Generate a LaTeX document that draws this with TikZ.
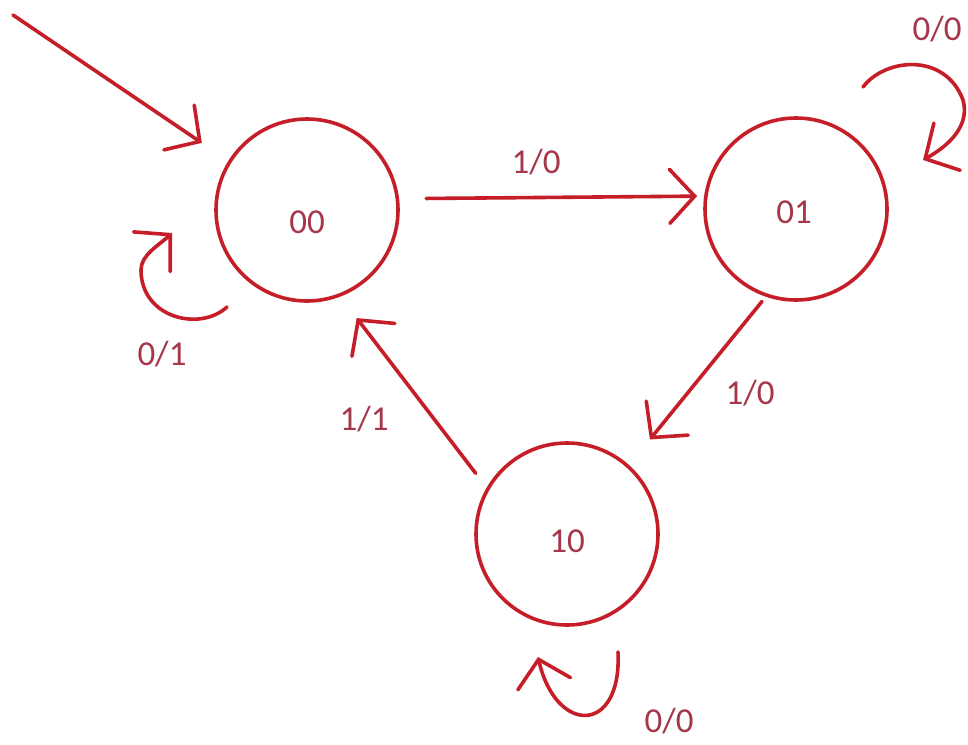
\documentclass[tikz,border=0pt]{standalone}
\usepackage{fontspec}
\setmainfont{Carlito}
\usetikzlibrary{arrows.meta}
\definecolor{ln}{RGB}{198,30,40}
\definecolor{tx}{RGB}{165,55,75}
\begin{document}
\begin{tikzpicture}[x=1pt,y=1pt,yscale=-1,
  state/.style={circle,draw=ln,line width=3.6pt,minimum size=182pt,inner sep=0pt},
  txt/.style={text=tx,font=\fontsize{35}{40}\selectfont,inner sep=0pt},
  arr/.style={draw=ln,line width=3.6pt,line cap=round,-{Straight Barb[length=25pt,width=54pt,line cap=round]}}]
\useasboundingbox (0,0) rectangle (968,744);
\fill[white] (0,0) rectangle (968,744);
% states
\node[state] (s00) at (307,210) {};
\node[state] (s01) at (796,209) {};
\node[state] (s10) at (567,534) {};
\node[txt] (t00) at (307,222) {00};
\node[txt] (t01) at (794,212) {01};
\node[txt] (t10) at (567,541) {10};
% initial arrow
\coordinate (init) at (13,15);
\draw[arr,shorten >=32pt] (init) -- (s00.148);
% transitions
\draw[arr,shorten <=27pt,shorten >=7pt] (s00.7) -- (s01.172);
\draw[arr,shorten <=6pt,shorten >=33pt] (s01.251) -- (s10.48);
\draw[arr,shorten <=18pt,shorten >=27pt] (s10.150) -- (s00.291);
% self loops
\draw[arr] (227,307) .. controls (200,332) and (141,318) .. (141,270)
  .. controls (141,255) and (158,246) .. (172,233);
\draw[arr] (863,87) .. controls (885,58) and (945,52) .. (963,100)
  .. controls (970,125) and (950,145) .. (923,160);
\draw[arr] (618,652) .. controls (622,735) and (556,735) .. (538,657);
% labels
\node[txt] (l1) at (536,162) {1/0};
\node[txt] (l2) at (750,393) {1/0};
\node[txt] (l3) at (364,419) {1/1};
\node[txt] (l4) at (162,354) {0/1};
\node[txt] (l5) at (937,29) {0/0};
\node[txt] (l6) at (669,721) {0/0};
\end{tikzpicture}
\end{document}
